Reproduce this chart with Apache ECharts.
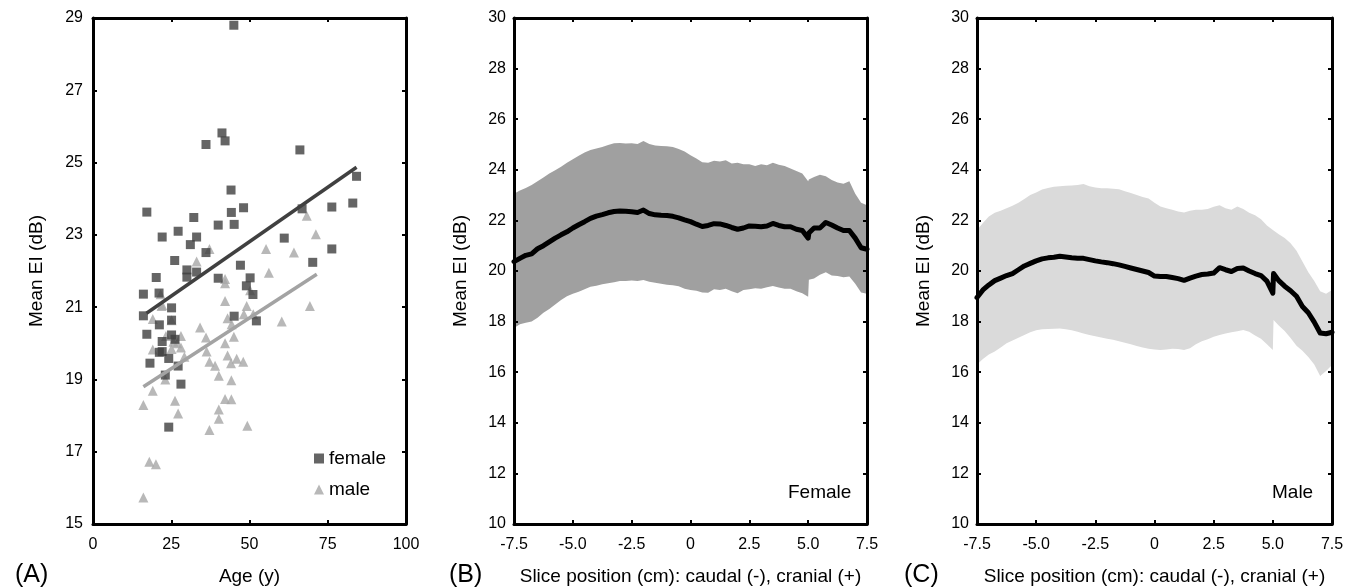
<!DOCTYPE html>
<html><head><meta charset="utf-8">
<script src="https://cdn.jsdelivr.net/npm/echarts@6/dist/echarts.min.js"></script>
<style>html,body{margin:0;padding:0;background:#fff}#c{width:1357px;height:588px}</style>
</head><body><div id="c"></div><script>
const FONT = '"Liberation Sans", Arial, Helvetica, sans-serif';

// ---- Panel A data: [age (y), mean EI (dB)] ----
const femaleAgeEI = [[45,28.8],[41.2,25.82],[42.2,25.6],[36.1,25.5],[66.1,25.35],[44.1,24.24],[84.2,24.62],[83,23.88],[76.3,23.77],[66.8,23.72],[17.2,23.63],[48.1,23.75],[44.2,23.62],[32.2,23.48],[40,23.27],[45.1,23.29],[22.1,22.94],[27.2,23.1],[33.1,22.94],[31.1,22.73],[36.1,22.51],[26.1,22.29],[61.1,22.91],[76.3,22.61],[70.2,22.24],[47.1,22.16],[30,22.03],[30,21.83],[33.1,21.97],[20.2,21.82],[40,21.8],[50.2,21.81],[49,21.59],[51.1,21.35],[16.1,21.36],[21.1,21.39],[25.1,20.98],[16.1,20.76],[45.1,20.75],[52.2,20.62],[25.1,20.64],[21.2,20.51],[17.2,20.25],[22.1,20.05],[25.1,20.23],[26.2,20.11],[21.2,19.75],[22.1,19.77],[24.2,19.58],[18.2,19.45],[27.2,19.37],[23.1,19.12],[28.1,18.87],[24.2,17.68]];
const maleAgeEI = [[68.3,23.53],[71.2,23.02],[55.3,22.61],[64.2,22.51],[37.2,22.61],[33.1,22.26],[56.2,21.95],[42.2,21.78],[42.2,21.66],[21.6,21.36],[50.2,21.47],[42.2,21.17],[49.1,21.03],[69.3,21.03],[21.9,21.03],[48.2,20.8],[51.2,20.8],[43,20.69],[19.1,20.67],[25.1,20.64],[60.3,20.6],[44.3,20.53],[34.2,20.44],[36.1,20.16],[45,20.18],[23.3,20.2],[28.1,20.2],[25.7,20.04],[26.9,20.0],[19.1,19.83],[25.1,19.84],[28.1,19.88],[42.2,20.0],[36.3,19.77],[29.2,19.63],[43,19.66],[45.9,19.57],[48,19.49],[37.2,19.49],[39,19.38],[44.1,19.45],[16.1,18.29],[19.1,18.69],[23.1,19.0],[26.2,18.41],[27.2,18.06],[40.2,19.1],[44.2,18.98],[42.2,18.46],[44.2,18.45],[40.2,18.17],[40.2,17.91],[37.2,17.6],[49.3,17.72],[18,16.72],[20.1,16.65],[16.1,15.73],[22.1,21.06]];
const femaleFit = [[17.1,20.83],[84.2,24.87]];
const maleFit = [[16.1,18.80],[71.5,21.91]];
const ageTicks = [0,25,50,75,100];
const eiTicksA = [15,17,19,21,23,25,27,29];

// ---- Panels B, C data ----
const slicePos = [-7.5,-7.25,-7,-6.75,-6.5,-6.25,-6,-5.75,-5.5,-5.25,-5,-4.75,-4.5,-4.25,-4,-3.75,-3.5,-3.25,-3,-2.75,-2.5,-2.25,-2,-1.75,-1.5,-1.25,-1,-0.75,-0.5,-0.25,0,0.25,0.5,0.75,1,1.25,1.5,1.75,2,2.25,2.5,2.75,3,3.25,3.5,3.75,4,4.25,4.5,4.75,5,5.03,5.25,5.5,5.75,6,6.25,6.5,6.75,7,7.25,7.5];
const femaleUpper = [23.05,23.18,23.28,23.40,23.55,23.70,23.85,23.98,24.12,24.28,24.42,24.56,24.68,24.78,24.84,24.90,24.98,25.05,25.06,25.04,25.05,25.02,25.14,25.02,24.96,24.94,24.93,24.90,24.82,24.72,24.58,24.45,24.30,24.28,24.36,24.33,24.38,24.25,24.28,24.22,24.22,24.15,24.22,24.18,24.28,24.20,24.15,24.05,23.95,23.85,23.55,23.62,23.72,23.80,23.75,23.60,23.50,23.45,23.55,23.05,22.70,22.60];
const femaleLower = [17.75,17.90,17.95,18.00,18.15,18.35,18.50,18.68,18.85,19.00,19.10,19.18,19.28,19.38,19.42,19.48,19.52,19.56,19.60,19.60,19.62,19.60,19.64,19.58,19.54,19.50,19.46,19.44,19.40,19.30,19.25,19.22,19.15,19.14,19.28,19.25,19.30,19.20,19.12,19.25,19.28,19.32,19.30,19.36,19.41,19.35,19.30,19.30,19.20,19.12,18.98,19.65,19.70,19.85,19.95,19.82,19.80,19.75,19.78,19.50,19.15,19.10];
const femaleMean = [20.37,20.50,20.62,20.68,20.88,21.00,21.15,21.30,21.43,21.55,21.70,21.83,21.95,22.08,22.17,22.23,22.30,22.35,22.37,22.36,22.34,22.31,22.41,22.27,22.22,22.20,22.19,22.16,22.10,22.02,21.95,21.85,21.76,21.80,21.87,21.86,21.80,21.72,21.65,21.70,21.78,21.77,21.75,21.78,21.88,21.80,21.75,21.75,21.65,21.60,21.30,21.50,21.70,21.70,21.92,21.82,21.70,21.60,21.60,21.30,20.92,20.86];
const maleUpper = [21.62,21.90,22.15,22.30,22.38,22.48,22.58,22.70,22.85,23.00,23.10,23.22,23.28,23.33,23.35,23.37,23.38,23.40,23.44,23.35,23.30,23.27,23.27,23.25,23.23,23.15,23.08,23.00,22.92,22.87,22.70,22.55,22.48,22.42,22.35,22.31,22.38,22.42,22.42,22.45,22.54,22.60,22.48,22.42,22.55,22.45,22.30,22.20,22.05,21.80,21.62,21.60,21.45,21.30,21.10,20.80,20.38,19.95,19.60,19.20,19.10,19.25];
const maleLower = [16.30,16.52,16.70,16.82,16.98,17.14,17.25,17.36,17.47,17.58,17.66,17.70,17.71,17.72,17.73,17.70,17.66,17.60,17.53,17.47,17.42,17.37,17.32,17.28,17.22,17.16,17.10,17.04,16.98,16.93,16.90,16.88,16.90,16.93,16.92,16.88,16.95,17.10,17.22,17.30,17.40,17.47,17.53,17.58,17.62,17.67,17.60,17.45,17.32,17.10,16.88,18.06,17.85,17.63,17.35,17.05,16.85,16.60,16.30,15.85,16.05,16.28];
const maleMean = [18.95,19.25,19.45,19.62,19.72,19.82,19.90,20.05,20.20,20.30,20.40,20.48,20.52,20.54,20.58,20.55,20.52,20.50,20.50,20.45,20.40,20.36,20.33,20.29,20.24,20.18,20.12,20.06,20.00,19.94,19.80,19.78,19.78,19.74,19.70,19.63,19.72,19.80,19.86,19.88,19.92,20.13,20.05,19.98,20.10,20.12,20.00,19.90,19.82,19.60,19.12,19.90,19.62,19.40,19.22,19.00,18.60,18.35,17.98,17.55,17.52,17.58];
const eiTicksBC = [10,12,14,16,18,20,22,24,26,28,30];

const pair = (xs, ys) => xs.map((x, i) => [x, ys[i]]);

const axisLine = {show: true, onZero: false, lineStyle: {color: '#000', width: 3}};
const tick = {show: true, inside: true, length: 4, lineStyle: {color: '#000', width: 2}};
const lab = {color: '#000', fontSize: 16, fontFamily: FONT};
const nameStyle = {color: '#000', fontSize: 19, fontFamily: FONT};
const sliceFmt = v => (v === 0 ? '0' : v.toFixed(1));

function xPair(g, min, max, interval, fmt, name, nameGap) {
  return [
    {gridIndex: g, type: 'value', position: 'bottom', min, max, interval, z: 10,
     axisLine, axisTick: tick, splitLine: {show: false},
     axisLabel: Object.assign({}, lab, {margin: 13, formatter: fmt}),
     name, nameLocation: 'middle', nameGap, nameTextStyle: nameStyle},
    {gridIndex: g, type: 'value', position: 'top', min, max, interval, z: 10,
     axisLine, axisTick: tick, splitLine: {show: false}, axisLabel: {show: false}}
  ];
}
function yPair(g, min, max, ticks, labMargin, nameGap) {
  return [
    {gridIndex: g, type: 'value', position: 'left', min, max, z: 10,
     axisLine, axisTick: Object.assign({}, tick, {customValues: ticks}), splitLine: {show: false},
     axisLabel: Object.assign({}, lab, {margin: labMargin, customValues: ticks}),
     name: 'Mean EI (dB)', nameLocation: 'middle', nameGap, nameRotate: 90, nameTextStyle: nameStyle},
    {gridIndex: g, type: 'value', position: 'right', min, max, z: 10,
     axisLine, axisTick: Object.assign({}, tick, {customValues: ticks}), splitLine: {show: false},
     axisLabel: {show: false}}
  ];
}

function bandSeries(axisIdx, lower, upper, mean, color) {
  return [
    {type: 'custom', xAxisIndex: axisIdx, yAxisIndex: axisIdx, silent: true, z: 2,
     data: slicePos.map((x, i) => [x, lower[i], upper[i]]),
     encode: {x: 0, y: [1, 2]},
     renderItem: function (params, api) {
       if (params.dataIndex !== 0) return null;
       const top = slicePos.map((x, i) => api.coord([x, upper[i]]));
       const bot = slicePos.map((x, i) => api.coord([x, lower[i]])).reverse();
       return {type: 'polygon', shape: {points: top.concat(bot)},
               style: {fill: color, stroke: null}};
     }},
    {type: 'line', xAxisIndex: axisIdx, yAxisIndex: axisIdx, symbol: 'none',
     lineStyle: {color: '#000', width: 5, join: 'round', cap: 'round'},
     data: pair(slicePos, mean), z: 3}
  ];
}

const chart = echarts.init(document.getElementById('c'), null, {renderer: 'canvas'});
chart.setOption({
  animation: false,
  backgroundColor: '#fff',
  grid: [
    {left: 93, top: 18, width: 313, height: 506, containLabel: false, outerBoundsMode: 'none'},
    {left: 514, top: 18, width: 353, height: 506, containLabel: false, outerBoundsMode: 'none'},
    {left: 977, top: 18, width: 355, height: 506, containLabel: false, outerBoundsMode: 'none'}
  ],
  xAxis: [].concat(
    xPair(0, 0, 100, 25, null, 'Age (y)', 43),
    xPair(1, -7.5, 7.5, 2.5, sliceFmt, 'Slice position (cm): caudal (-), cranial (+)', 43),
    xPair(2, -7.5, 7.5, 2.5, sliceFmt, 'Slice position (cm): caudal (-), cranial (+)', 43)
  ),
  yAxis: [].concat(
    yPair(0, 15, 29, eiTicksA, 10, 47),
    yPair(1, 10, 30, eiTicksBC, 8, 44),
    yPair(2, 10, 30, eiTicksBC, 8, 44)
  ),
  legend: {
    orient: 'vertical', left: 314, top: 449, padding: 0,
    itemWidth: 10, itemHeight: 10, itemGap: 12, selectedMode: false,
    textStyle: {fontSize: 19, fontFamily: FONT, color: '#000'},
    data: [{name: 'female', icon: 'rect'}, {name: 'male', icon: 'triangle'}]
  },
  graphic: [
    {type: 'text', left: 15, top: 563, style: {text: '(A)', font: '25px ' + FONT, fill: '#000'}},
    {type: 'text', left: 449, top: 563, style: {text: '(B)', font: '25px ' + FONT, fill: '#000'}},
    {type: 'text', left: 904, top: 563, style: {text: '(C)', font: '25px ' + FONT, fill: '#000'}},
    {type: 'text', left: 788, top: 483, style: {text: 'Female', font: '19px ' + FONT, fill: '#000'}},
    {type: 'text', left: 1272, top: 483, style: {text: 'Male', font: '19px ' + FONT, fill: '#000'}}
  ],
  series: [
    {name: 'male', type: 'scatter', xAxisIndex: 0, yAxisIndex: 0, symbol: 'triangle', symbolSize: 10,
     itemStyle: {color: '#a6a6a6'}, data: maleAgeEI, z: 2},
    {name: 'female', type: 'scatter', xAxisIndex: 0, yAxisIndex: 0, symbol: 'rect', symbolSize: 9,
     itemStyle: {color: '#3f3f3f'}, data: femaleAgeEI, z: 3},
    {name: 'female fit', type: 'line', xAxisIndex: 0, yAxisIndex: 0, symbol: 'none',
     lineStyle: {color: '#404040', width: 3.5}, data: femaleFit, z: 4},
    {name: 'male fit', type: 'line', xAxisIndex: 0, yAxisIndex: 0, symbol: 'none',
     lineStyle: {color: '#a3a3a3', width: 3.5}, data: maleFit, z: 4}
  ].concat(
    bandSeries(2, femaleLower, femaleUpper, femaleMean, '#a0a0a0'),
    bandSeries(4, maleLower, maleUpper, maleMean, '#dadada')
  )
});
</script></body></html>
